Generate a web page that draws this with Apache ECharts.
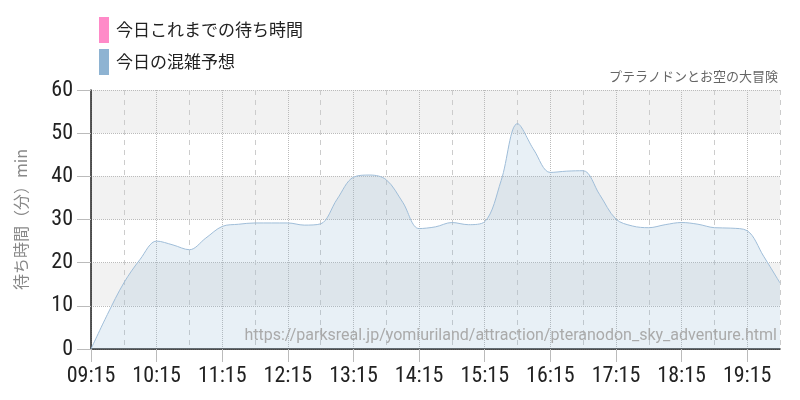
<!DOCTYPE html>
<html><head><meta charset="utf-8">
<script src="https://cdn.jsdelivr.net/npm/echarts@6/dist/echarts.min.js"></script>
<style>html,body{margin:0;padding:0;background:#fff}#c{width:800px;height:400px}</style>
</head><body><div id="c"></div>
<script>
var categories = ["09:15","09:30","09:45","10:00","10:15","10:30","10:45","11:00","11:15","11:30","11:45","12:00","12:15","12:30","12:45","13:00","13:15","13:30","13:45","14:00","14:15","14:30","14:45","15:00","15:15","15:30","15:45","16:00","16:15","16:30","16:45","17:00","17:15","17:30","17:45","18:00","18:15","18:30","18:45","19:00","19:15","19:30","19:45"];
var todaySoFar = [];
var forecast = [0,8,15.3,20.8,25,24.1,23,25.7,28.4,28.9,29.2,29.2,29.2,28.7,29,34.7,39.8,40.3,39.2,34,27.9,28.3,29.3,28.8,29.5,39,52.2,46.1,40.9,41.2,41.3,35.8,30.1,28.5,28.1,28.8,29.3,28.9,28.1,28,27.4,21.5,15.3];
var seriesNames = ["今日これまでの待ち時間","今日の混雑予想"];
var yAxisName = "待ち時間（分）min";
var attractionName = "プテラノドンとお空の大冒険";
var sourceUrl = "https://parksreal.jp/yomiuriland/attraction/pteranodon_sky_adventure.html";

var numFont = "'Liberation Sans Narrow','Roboto Condensed','DejaVu Sans Condensed',sans-serif";
var jpFont = "'Noto Sans CJK JP','Noto Sans',sans-serif";
var chart = echarts.init(document.getElementById('c'), null, {renderer:'canvas'});
chart.setOption({
  animation:false,
  backgroundColor:'#fff',
  grid:{left:91,right:20,top:90,bottom:51},
  legend:{
    orient:'vertical', left:94, top:12, itemWidth:10, itemHeight:26, itemGap:6,
    icon:'rect',
    textStyle:{fontSize:17, color:'#222', fontFamily:jpFont, padding:[0,0,0,2]},
    data:[{name:seriesNames[0], itemStyle:{color:'#ff8ac8'}},{name:seriesNames[1], itemStyle:{color:'#8eb3d2'}}]
  },
  graphic:[
    {type:'text', right:22, top:70, style:{text:attractionName, fontSize:13, fill:'#666', fontFamily:jpFont}, z:10},
    {type:'text', right:23, top:328, style:{text:sourceUrl, fontSize:16, fill:'#aaa', fontFamily:"Roboto,'Noto Sans',sans-serif"}, z:10}
  ],
  xAxis:[{
    type:'category', data:categories, boundaryGap:false,
    axisLine:{lineStyle:{color:'#222', width:1.5}},
    axisTick:{show:true, length:13, interval:function(i){return i%4===0;}, lineStyle:{color:'#bbb'}},
    axisLabel:{interval:function(i){return i%4===0;}, margin:16, fontSize:22, color:'#222', fontFamily:numFont},
    splitLine:{show:true, interval:function(i){return i%4===0;}, lineStyle:{type:'dotted', color:'#bbb'}}
  },{
    type:'category', data:categories, boundaryGap:false, position:'bottom',
    axisLine:{show:false}, axisTick:{show:false}, axisLabel:{show:false},
    splitLine:{show:true, interval:function(i){return i%4===2;}, lineStyle:{type:[5,5], color:'#ccc'}}
  }],
  yAxis:{
    type:'value', min:0, max:60, interval:10,
    name:yAxisName, nameLocation:'middle', nameGap:62,
    nameTextStyle:{fontSize:16, color:'#888', fontFamily:jpFont},
    axisLine:{show:true, lineStyle:{color:'#222', width:1.5}},
    axisTick:{show:true, length:14, lineStyle:{color:'#bbb'}},
    axisLabel:{margin:18, fontSize:22, color:'#222', fontFamily:numFont},
    splitLine:{show:true, lineStyle:{type:'dotted', color:'#bbb'}},
    splitArea:{show:true, areaStyle:{color:['rgba(255,255,255,0)','#f2f2f2']}}
  },
  series:[
    {name:seriesNames[0], type:'line', data:todaySoFar, itemStyle:{color:'#ff8ac8'}, showSymbol:false},
    {name:seriesNames[1], type:'line', data:forecast, smooth:0.35, showSymbol:false,
     itemStyle:{color:'#8eb3d2'},
     lineStyle:{color:'#9fbdd8', width:1},
     areaStyle:{color:'rgba(143,180,210,0.29)'}}
  ]
});
</script></body></html>
